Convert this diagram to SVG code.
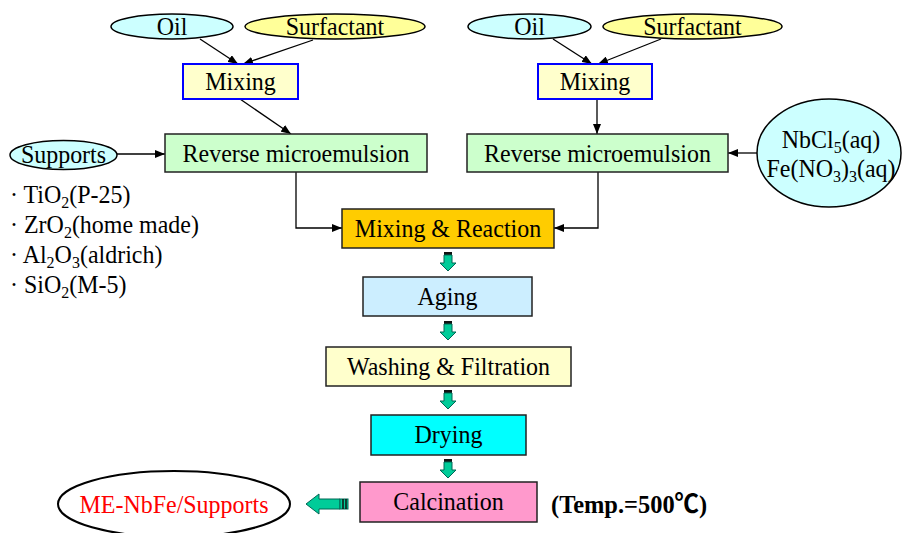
<svg xmlns="http://www.w3.org/2000/svg" width="902" height="533" viewBox="0 0 902 533">
<defs>
<style>
text{font-family:"Liberation Serif","Times New Roman",serif;font-size:25.5px;fill:#000;transform-box:fill-box;transform-origin:center;transform:scaleX(0.94);}
text.l{transform-origin:left center;}
.c{text-anchor:middle;}
.box{stroke:#222;stroke-width:1.5;}
.ell{stroke:#000;stroke-width:1.5;}
.edge{fill:none;stroke:#000;stroke-width:1.3;}
.sub{font-size:17px;}
.blk{fill:#00cc99;stroke:#006655;stroke-width:1;}
</style>
<marker id="ah" markerWidth="10" markerHeight="8" refX="10" refY="4" orient="auto" markerUnits="userSpaceOnUse">
<path d="M0,0 L10,4 L0,8 Z" fill="#000"/>
</marker>
<g id="down">
<rect x="-4" y="0" width="8" height="3" fill="#111"/>
<path d="M-4,3 H4 V11 H8 L0,19 L-8,11 H-4 Z" class="blk"/>
</g>
</defs>
<rect width="902" height="533" fill="#fff"/>

<g id="connectors">
<line class="edge" x1="200" y1="39" x2="238" y2="64" marker-end="url(#ah)"/>
<line class="edge" x1="313" y1="40" x2="243" y2="64" marker-end="url(#ah)"/>
<line class="edge" x1="553" y1="39" x2="592" y2="64" marker-end="url(#ah)"/>
<line class="edge" x1="661" y1="39" x2="598" y2="64" marker-end="url(#ah)"/>
<line class="edge" x1="240" y1="99" x2="291" y2="134" marker-end="url(#ah)"/>
<line class="edge" x1="597" y1="99" x2="597" y2="134" marker-end="url(#ah)"/>
<line class="edge" x1="117" y1="154" x2="165" y2="154" marker-end="url(#ah)"/>
<line class="edge" x1="757" y1="153" x2="728" y2="153" marker-end="url(#ah)"/>
<polyline class="edge" points="296,172 296,228 342,228" marker-end="url(#ah)"/>
<polyline class="edge" points="598,172 598,228 554,228" marker-end="url(#ah)"/>
<use href="#down" x="448" y="252"/>
<use href="#down" x="448" y="321"/>
<use href="#down" x="448" y="390"/>
<use href="#down" x="448" y="459"/>
<g id="left-arrow">
<path d="M306,504 L319,494 V499 H340 V509 H319 V514 Z" class="blk"/>
<rect x="340" y="499" width="8" height="10" fill="#00cc99" stroke="#006655" stroke-width="1"/>
<line x1="343" y1="499" x2="343" y2="509" stroke="#111" stroke-width="1.5"/>
<line x1="346" y1="499" x2="346" y2="509" stroke="#111" stroke-width="1.5"/>
</g>
</g>

<g id="oil1"><ellipse class="ell" cx="172" cy="26.5" rx="61" ry="12.5" fill="#ccffff"/><text class="c" x="172" y="35">Oil</text></g>
<g id="surf1"><ellipse class="ell" cx="335" cy="26.5" rx="90" ry="12.5" fill="#ffff99"/><text class="c" x="335" y="35">Surfactant</text></g>
<g id="oil2"><ellipse class="ell" cx="529.5" cy="26.5" rx="61.5" ry="12.5" fill="#ccffff"/><text class="c" x="529.5" y="35">Oil</text></g>
<g id="surf2"><ellipse class="ell" cx="692.5" cy="26.5" rx="89.5" ry="12.5" fill="#ffff99"/><text class="c" x="692.5" y="35">Surfactant</text></g>

<g id="mix1"><rect x="183" y="64" width="115" height="35" fill="#ffffcc" stroke="#0000ff" stroke-width="2"/><text class="c" x="240.5" y="90">Mixing</text></g>
<g id="mix2"><rect x="538" y="64" width="114" height="35" fill="#ffffcc" stroke="#0000ff" stroke-width="2"/><text class="c" x="595" y="90">Mixing</text></g>

<g id="supports"><ellipse class="ell" cx="63.5" cy="155" rx="53.5" ry="14.5" fill="#ccffff"/><text class="c" x="63.5" y="163">Supports</text></g>
<g id="rme1"><rect class="box" x="165" y="134" width="262" height="38" fill="#ccffcc"/><text class="c" x="296" y="162">Reverse microemulsion</text></g>
<g id="rme2"><rect class="box" x="467" y="134" width="261" height="38" fill="#ccffcc"/><text class="c" x="597.5" y="162">Reverse microemulsion</text></g>
<g id="precursor"><ellipse class="ell" cx="829" cy="153" rx="72" ry="54" fill="#ccffff"/>
<text class="c" x="831" y="148">NbCl<tspan class="sub" dy="5">5</tspan><tspan dy="-5">(aq)</tspan></text>
<text class="c" x="831" y="177">Fe(NO<tspan class="sub" dy="5">3</tspan><tspan dy="-5">)</tspan><tspan class="sub" dy="5">3</tspan><tspan dy="-5">(aq)</tspan></text>
</g>

<g id="support-list">
<text class="l" x="10" y="203">· TiO<tspan class="sub" dy="5">2</tspan><tspan dy="-5">(P-25)</tspan></text>
<text class="l" x="10" y="233">· ZrO<tspan class="sub" dy="5">2</tspan><tspan dy="-5">(home made)</tspan></text>
<text class="l" x="10" y="263">· Al<tspan class="sub" dy="5">2</tspan><tspan dy="-5">O</tspan><tspan class="sub" dy="5">3</tspan><tspan dy="-5">(aldrich)</tspan></text>
<text class="l" x="10" y="293">· SiO<tspan class="sub" dy="5">2</tspan><tspan dy="-5">(M-5)</tspan></text>
</g>

<g id="mixreact"><rect class="box" x="342" y="209" width="212" height="39" fill="#ffcc00"/><text class="c" x="448" y="237">Mixing &amp; Reaction</text></g>
<g id="aging"><rect class="box" x="363" y="277" width="169" height="39" fill="#cceeff"/><text class="c" x="447.5" y="305">Aging</text></g>
<g id="washing"><rect class="box" x="326" y="347" width="245" height="39" fill="#ffffcc"/><text class="c" x="448.5" y="375">Washing &amp; Filtration</text></g>
<g id="drying"><rect class="box" x="371" y="415" width="155" height="40" fill="#00ffff"/><text class="c" x="448.5" y="443">Drying</text></g>
<g id="calcination"><rect class="box" x="360" y="482" width="177" height="40" fill="#ff99cc"/><text class="c" x="448.5" y="510">Calcination</text></g>
<g id="temp"><text class="l" x="551" y="513" style="font-family:'Liberation Serif','Noto Sans CJK SC',serif;font-weight:bold;font-size:26px">(Temp.=500℃)</text></g>
<g id="product"><ellipse cx="174" cy="504" rx="116" ry="33" fill="#fff" stroke="#000" stroke-width="2"/><text class="c" x="174" y="513" style="fill:#ff0000">ME-NbFe/Supports</text></g>
</svg>
